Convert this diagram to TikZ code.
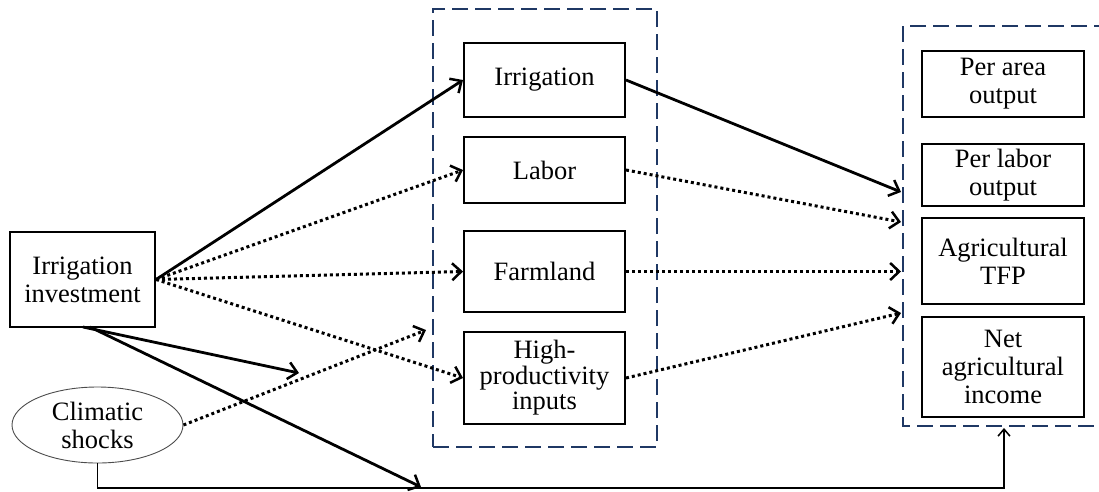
\documentclass[tikz,border=0pt]{standalone}
\usepackage{fontspec}
\setmainfont{Liberation Serif}
\usetikzlibrary{arrows.meta,shapes.geometric,calc}
\definecolor{navy}{RGB}{31,56,100}
\begin{document}
\begin{tikzpicture}[x=1pt,y=-1pt,
  box/.style={draw=black,line width=2pt,inner sep=0pt,align=center,font=\fontsize{26.5}{28}\selectfont},
  grp/.style={draw=navy,line width=2pt,dash pattern=on 16pt off 7pt},
  solidarrow/.style={line width=2.8pt,-{Straight Barb[length=9pt,width=17pt,line width=2.5pt]}},
  dotarrow/.style={line width=3pt,dash pattern=on 3pt off 3pt,-{Straight Barb[length=9pt,width=17pt,line width=2.5pt]}},
  thinarrow/.style={line width=1.5pt,-{Straight Barb[length=7pt,width=12pt,line width=1.5pt]}}]
\useasboundingbox (0,0) rectangle (1099,491);
% groups
\node[grp,minimum width=224pt,minimum height=438pt,inner sep=0pt] (mid) at (545,228) {};
\coordinate (rtl) at (1110,26);
\coordinate (rbl) at (1110,426);
\draw[grp] (rtl) -- (903,26) -- (903,426) -- (rbl);
% nodes
\node[box,minimum width=145pt,minimum height=95pt] (inv) at (82.5,279.5) {Irrigation\\investment};
\node[draw=black!70,line width=0.9pt,ellipse,minimum width=171pt,minimum height=76pt,inner sep=0pt,align=center,font=\fontsize{26.5}{28}\selectfont] (clim) at (97.5,425) {Climatic\\shocks};
\node[box,minimum width=161pt,minimum height=74pt] (irr) at (544.5,80) {Irrigation};
\node[box,minimum width=161pt,minimum height=66pt] (lab) at (544.5,170) {Labor};
\node[box,minimum width=161pt,minimum height=81pt] (farm) at (544.5,271.5) {Farmland};
\node[box,minimum width=161pt,minimum height=92pt,font=\fontsize{26.5}{25.5}\selectfont] (high) at (544.5,378) {High-\\productivity\\inputs};
\node[box,minimum width=162pt,minimum height=66pt] (pa) at (1003,84) {Per area\\output};
\node[box,minimum width=162pt,minimum height=62pt] (pl) at (1003,175) {Per labor\\output};
\node[box,minimum width=162pt,minimum height=86pt] (tfp) at (1003,261) {Agricultural\\TFP};
\node[box,minimum width=162pt,minimum height=100pt] (net) at (1003,367) {Net\\agricultural\\income};
% coordinates
\coordinate (invb1) at (83,327);
\coordinate (invb2) at (90,327);
\coordinate (c1) at (299,373);
\coordinate (c2) at (426,330);
\coordinate (c3) at (421,487);
\coordinate (bot) at (1004,488);
\coordinate (rb) at (1004,428);
\coordinate (t1) at (901,192);
\coordinate (t2) at (901,222);
\coordinate (t3) at (901,271.5);
\coordinate (t4) at (901,313);
% connectors
\draw[solidarrow] (inv.east) -- (irr.west);
\draw[dotarrow] (inv.east) -- (lab.west);
\draw[dotarrow] (inv.east) -- (farm.west);
\draw[dotarrow] (inv.east) -- (high.west);
\draw[solidarrow] (invb1) -- (c1);
\draw[solidarrow] (invb2) -- (c3);
\draw[dotarrow] (clim.east) -- (c2);
\draw[thinarrow] (clim.south) |- (bot) -- (rb);
\draw[solidarrow] (irr.east) -- (t1);
\draw[dotarrow] (lab.east) -- (t2);
\draw[dotarrow] (farm.east) -- (t3);
\draw[dotarrow] (high.east) -- (t4);
\end{tikzpicture}
\end{document}
